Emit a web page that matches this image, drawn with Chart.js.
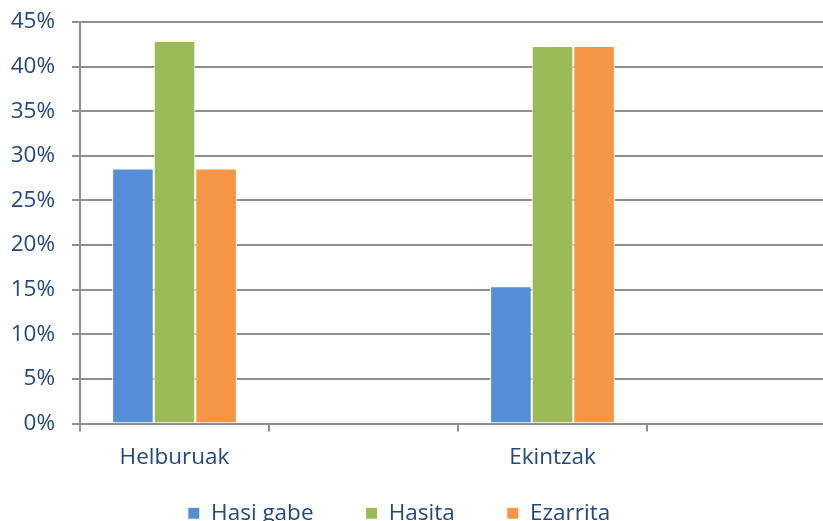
<!DOCTYPE html>
<html>
<head>
<meta charset="utf-8">
<script src="https://cdn.jsdelivr.net/npm/chart.js@4/dist/chart.umd.min.js"></script>
<style>
  html, body { margin: 0; padding: 0; background: #fff; overflow: hidden; width: 823px; height: 521px; }
  #wrap { position: absolute; left: 0; top: 0; width: 836px; height: 580px; }
</style>
</head>
<body>
<div id="wrap"><canvas id="c" width="836" height="580"></canvas></div>
<script>
const categories = ['Helburuak', '', 'Ekintzak', ''];
const seriesNames = ['Hasi gabe', 'Hasita', 'Ezarrita'];
const hasiGabe = [0.2857, null, 0.1538, null];
const hasita = [0.4286, null, 0.4231, null];
const ezarrita = [0.2857, null, 0.4231, null];
const yTicks = ['0%', '5%', '10%', '15%', '20%', '25%', '30%', '35%', '40%', '45%'];

const textColor = '#22497D';
const gridColor = '#8f8f8f';
const font = { family: '"Open Sans", sans-serif', size: 22.5 };

const legendShift = {
  id: 'legendShift',
  afterLayout(chart) {
    const lg = chart.legend;
    if (lg) {
      lg.left -= 19; lg.right -= 19;
      const h = lg.height;
      lg.top = 450; lg.bottom = lg.top + h;
    }
  }
};

new Chart(document.getElementById('c'), {
  type: 'bar',
  data: {
    labels: categories,
    datasets: [
      { label: seriesNames[0], data: hasiGabe, backgroundColor: '#558ED5', borderColor: '#ffffff', borderWidth: 1 },
      { label: seriesNames[1], data: hasita, backgroundColor: '#9BBB59', borderColor: '#ffffff', borderWidth: 1 },
      { label: seriesNames[2], data: ezarrita, backgroundColor: '#F79646', borderColor: '#ffffff', borderWidth: 1 }
    ]
  },
  options: {
    responsive: false,
    animation: false,
    events: [],
    layout: { padding: { top: 22, left: 0, right: 0, bottom: 0 } },
    datasets: { bar: { categoryPercentage: 0.66, barPercentage: 1.0, skipNull: false } },
    scales: {
      x: {
        offset: true,
        afterFit(s) { s.height = 72; },
        grid: { offset: true, drawOnChartArea: false, drawTicks: true, tickLength: 8, color: gridColor, lineWidth: 2 },
        border: { display: true, color: gridColor, width: 2 },
        ticks: { color: textColor, font: font, padding: 13, maxRotation: 0, autoSkip: false }
      },
      y: {
        min: 0, max: 0.45,
        afterFit(s) { s.width = 80; s.paddingTop = 0; s.paddingBottom = 0; },
        grid: { color: gridColor, lineWidth: 2, tickLength: 8 },
        border: { display: true, color: gridColor, width: 2 },
        ticks: {
          stepSize: 0.05, color: textColor, font: font, padding: 17,
          callback: (v, i) => yTicks[i]
        }
      }
    },
    plugins: {
      tooltip: { enabled: false },
      legend: {
        position: 'bottom',
        labels: { color: textColor, font: font, boxWidth: 12, boxHeight: 12, padding: 52 }
      }
    }
  },
  plugins: [legendShift]
});
</script>
</body>
</html>
